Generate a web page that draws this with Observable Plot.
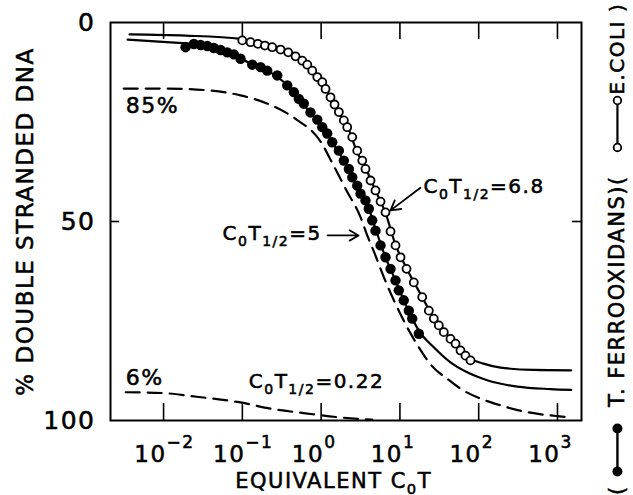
<!DOCTYPE html>
<html><head><meta charset="utf-8">
<script src="https://cdn.jsdelivr.net/npm/d3@7"></script>
<script src="https://cdn.jsdelivr.net/npm/@observablehq/plot@0.6"></script>
<style>
html,body{margin:0;padding:0;background:#fff;}
svg text{letter-spacing:1.5px;stroke:#000;stroke-width:0.55px;}
</style></head><body><div id="chart"></div>
<script>
// ---- data (log10 of equivalent C0t, % double stranded) ----
const ecoliFitLog = [-2.432,-1.721,-1.023,-0.794,-0.617,-0.414,-0.236,-0.109,0.018,0.119,0.221,0.335,0.449,0.566,0.690,0.820,0.947,1.086,1.283,1.473,1.642,1.832,2.061,2.277,2.695,3.174];
const ecoliFitPct = [3.0,3.3,4.1,5.3,6.3,7.5,9.5,12.1,15.1,18.8,22.6,26.1,32.2,36.7,42.2,48.0,56.0,61.8,69.0,75.7,79.4,83.7,85.7,86.7,87.3,87.4];

const ferroFitLog = [-2.456,-1.759,-1.619,-1.445,-1.255,-1.108,-0.874,-0.684,-0.430,-0.283,-0.135,0.014,0.141,0.288,0.395,0.5,0.605,0.690,0.817,0.944,1.049,1.156,1.240,1.430,1.642,1.854,2.108,2.489,2.911,3.174];
const ferroFitPct = [4.3,5.2,5.4,5.9,7.0,8.0,10.6,12.1,15.8,19.2,22.7,26.3,30.1,34.7,38.9,43.0,46.8,51.8,59.0,64.8,69.8,74.4,77.4,81.6,85.4,87.9,89.9,91.5,92.1,92.3];

const fastCompLog = [-2.506,-1.949,-1.404,-1.023,-0.680,-0.325,-0.008,0.157,0.322,0.5,0.585,0.669,0.796,0.944,1.093,1.240,1.410,1.600,1.769,2.023,2.277,2.616,2.996,3.165];
const fastCompPct = [16.6,16.6,17.1,18.3,20.4,24.2,29.9,35.9,42.2,48.9,53.5,57.5,64.0,70.7,76.6,81.6,86.4,89.5,92.0,94.5,96.2,97.9,98.9,99.2];

const slowCompLog = [-2.481,-2.016,-1.552,-1.044,-0.621,-0.198,0.225,0.648];
const slowCompPct = [92.9,93.1,94.1,95.4,97.1,98.2,99.2,99.8];

const ecoliLog = [-1.001,-0.896,-0.803,-0.714,-0.621,-0.515,-0.418,-0.325,-0.240,-0.176,-0.113,-0.049,0.014,0.056,0.119,0.170,0.225,0.288,0.331,0.395,0.458,0.522,0.563,0.627,0.690,0.754,0.817,0.881,0.944,1.008,1.084,1.176,1.283,1.367,1.430,1.494,1.557,1.642,1.706,1.769,1.832,1.896];
const ecoliPct = [4.5,4.95,5.35,5.8,6.2,6.8,7.5,8.5,9.6,10.6,12.1,13.7,15.0,16.7,18.8,20.6,22.5,24.6,26.3,28.8,32.2,34.7,36.8,39.7,42.2,45.0,47.7,52.5,56.0,59.0,61.9,65.3,69.0,72.4,74.4,76.1,77.8,79.5,80.7,82.4,83.7,84.9];

const ferroLog = [-1.721,-1.615,-1.530,-1.445,-1.362,-1.277,-1.192,-1.108,-1.023,-0.874,-0.769,-0.684,-0.557,-0.430,-0.346,-0.283,-0.220,-0.135,-0.049,0.014,0.077,0.141,0.225,0.288,0.352,0.395,0.458,0.5,0.563,0.605,0.648,0.690,0.754,0.817,0.881,0.944,0.986,1.049,1.113,1.156,1.240];
const ferroPct = [6.2,5.4,5.65,5.9,6.4,6.9,7.5,8.0,9.1,10.6,11.2,12.1,13.3,15.8,17.5,19.2,20.4,22.6,24.4,26.3,27.9,30.1,32.2,34.7,36.8,38.9,41.0,43.0,44.7,46.8,49.7,52.3,56.0,59.0,61.9,64.8,67.3,69.8,72.4,74.4,78.2];

const xExponents = [-2,-1,0,1,2,3];
const yTicks = [0,50,100];

// ---- tables ----
const pts = (lg, pc) => lg.map((l, i) => ({cot: 10 ** l, pct: pc[i]}));
const ecoliFit = pts(ecoliFitLog, ecoliFitPct);
const ferroFit = pts(ferroFitLog, ferroFitPct);
const fastComp = pts(fastCompLog, fastCompPct);
const slowComp = pts(slowCompLog, slowCompPct);
const ecoli = pts(ecoliLog, ecoliPct);
const ferro = pts(ferroLog, ferroPct);

const INK = "#000";
const legX = 10 ** 3.761;
const one = [0];

const chart = Plot.plot({
  width: 633, height: 495,
  marginLeft: 110, marginRight: 52, marginTop: 22, marginBottom: 75,
  style: {fontFamily: "DejaVu Sans", fontSize: "20px", background: "#fff", color: INK, overflow: "visible"},
  x: {type: "log", domain: [0.00212, 2018], axis: null},
  y: {domain: [0, 100], reverse: true, axis: null},
  marks: [
    Plot.frame({stroke: INK, strokeWidth: 2}),
    Plot.tickX(xExponents, {x: d => 10 ** d, insetTop: 381, stroke: INK, strokeWidth: 1.6}),
    Plot.tickX(xExponents, {x: d => 10 ** d, insetBottom: 381, stroke: INK, strokeWidth: 1.6}),
    Plot.tickY([50], {y: d => d, insetRight: 462, stroke: INK, strokeWidth: 1.6}),
    Plot.tickY([50], {y: d => d, insetLeft: 462, stroke: INK, strokeWidth: 1.6}),
    Plot.axisY({ticks: yTicks, label: null, tickSize: 0, tickPadding: 15, fontSize: 25, tickFormat: d => String(d)}),
    Plot.text(xExponents, {x: d => 10 ** d, text: () => "10", frameAnchor: "bottom", textAnchor: "end", lineAnchor: "bottom", dx: 3, dy: 41, fontSize: 23}),
    Plot.text(xExponents, {x: d => 10 ** d, text: d => d < 0 ? "\u2212" + (-d) : String(d), frameAnchor: "bottom", textAnchor: "start", lineAnchor: "bottom", dx: 3, dy: 27, fontSize: 17}),
    Plot.text(["EQUIVALENT C_{0}T"], {x: () => 1.44, frameAnchor: "bottom", textAnchor: "middle", lineAnchor: "bottom", dy: 67, fontSize: 21}),
    Plot.text(["% DOUBLE STRANDED DNA"], {x: () => 10 ** -3.751, y: () => 50, rotate: -90, fontSize: 23}),

    // curves
    Plot.line(fastComp, {x: "cot", y: "pct", stroke: INK, strokeWidth: 2.2, strokeDasharray: "14,8", curve: "monotone-x"}),
    Plot.line(slowComp, {x: "cot", y: "pct", stroke: INK, strokeWidth: 2.2, strokeDasharray: "14,8", curve: "monotone-x"}),
    Plot.line(ferroFit, {x: "cot", y: "pct", stroke: INK, strokeWidth: 2.2, curve: "monotone-x"}),
    Plot.line(ecoliFit, {x: "cot", y: "pct", stroke: INK, strokeWidth: 2.2, curve: "monotone-x"}),
    Plot.dot(ferro, {x: "cot", y: "pct", r: 5.2, fill: INK}),
    Plot.dot(ecoli, {x: "cot", y: "pct", r: 4, fill: "#fff", stroke: INK, strokeWidth: 1.8}),

    // annotations
    Plot.text(["85%"], {x: () => 10 ** -2.481, y: () => 20.9, textAnchor: "start", fontSize: 22}),
    Plot.text(["6%"], {x: () => 10 ** -2.481, y: () => 89.2, textAnchor: "start", fontSize: 22}),
    Plot.text(["C_{0}T_{1/2}=0.22"], {x: () => 10 ** -0.919, y: () => 90.2, textAnchor: "start", fontSize: 20}),
    Plot.text(["C_{0}T_{1/2}=5"], {x: () => 10 ** -1.251, y: () => 53.0, textAnchor: "start", fontSize: 20}),
    Plot.text(["C_{0}T_{1/2}=6.8"], {x: () => 10 ** 1.299, y: () => 41.2, textAnchor: "start", fontSize: 20}),
    Plot.arrow(one, {x1: () => 10 ** 0.081, x2: () => 10 ** 0.475, y1: () => 53.5, y2: () => 53.5, stroke: INK, strokeWidth: 1.8, headLength: 9}),
    Plot.arrow(one, {x1: () => 10 ** 1.261, x2: () => 10 ** 0.881, y1: () => 41.5, y2: () => 47.2, stroke: INK, strokeWidth: 1.8, headLength: 9}),

    // legend (rotated, right side)
    Plot.text(["("], {x: () => legX, y: () => 117.5, rotate: -90, fontSize: 21}),
    Plot.link(one, {x1: () => legX, x2: () => legX, y1: () => 102, y2: () => 112.8, stroke: INK, strokeWidth: 2.4}),
    Plot.dot([102, 112.8], {x: () => legX, y: d => d, r: 5, fill: INK}),
    Plot.text(["T. FERROOXIDANS)("], {x: () => legX, y: () => 67.5, rotate: -90, fontSize: 21}),
    Plot.link(one, {x1: () => legX, x2: () => legX, y1: () => 19.6, y2: () => 31.4, stroke: INK, strokeWidth: 2.2}),
    Plot.dot([19.6, 31.4], {x: () => legX, y: d => d, r: 3.8, fill: "#fff", stroke: INK, strokeWidth: 1.8}),
    Plot.text(["E.COLI )"], {x: () => legX, y: () => 6.6, rotate: -90, fontSize: 20})
  ]
});

// sub/superscript markup -> tspans
d3.select(chart).selectAll("text").each(function () {
  const t = this.textContent;
  if (!/[_^]\{/.test(t)) return;
  const sel = d3.select(this);
  sel.text(null);
  const re = /([_^])\{([^}]*)\}|([^_^]+)/g;
  let m, shift = 0;
  while ((m = re.exec(t))) {
    if (m[3] !== undefined) {
      sel.append("tspan").attr("dy", -shift).text(m[3]);
      shift = 0;
    } else {
      const d = m[1] === "_" ? 6 : -9;
      sel.append("tspan").attr("dy", d - shift).style("font-size", "70%").text(m[2]);
      shift = d;
    }
  }
});

document.getElementById("chart").append(chart);
</script></body></html>
